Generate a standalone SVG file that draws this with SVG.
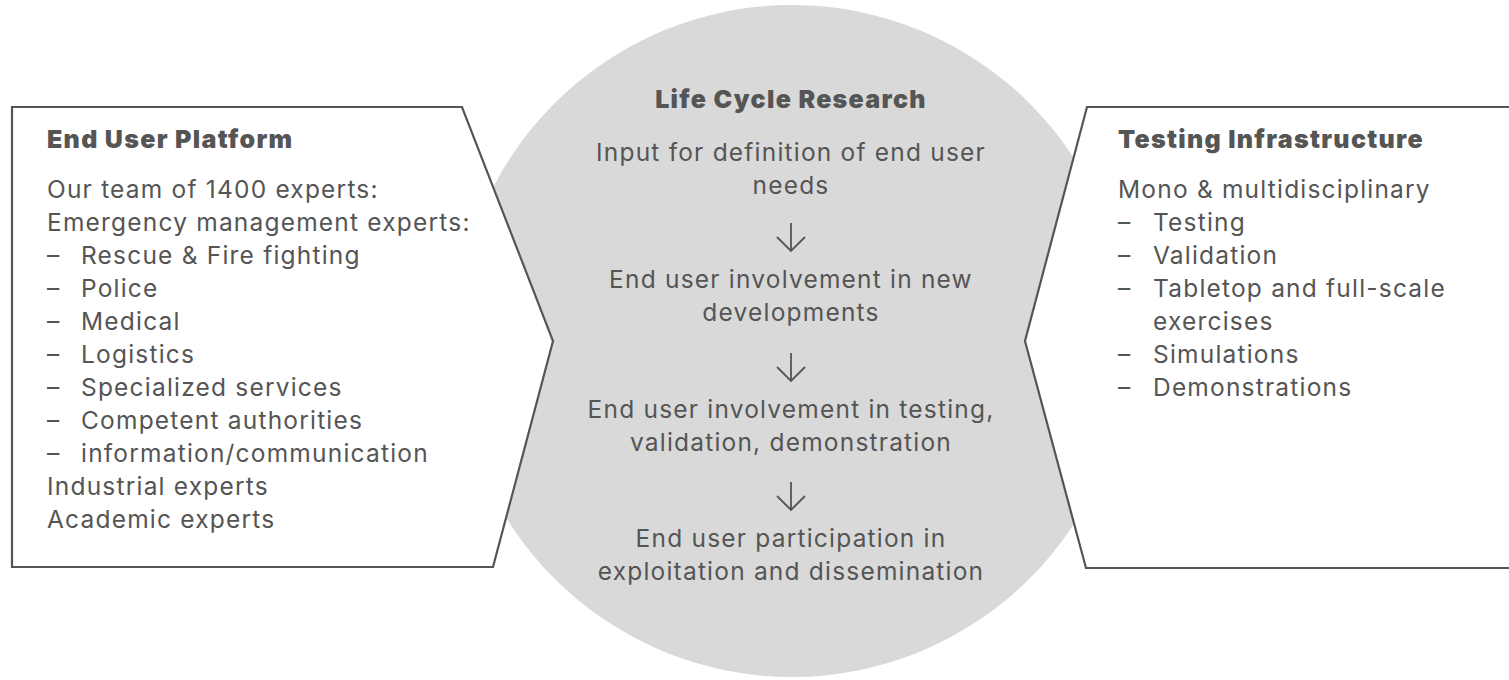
<svg xmlns="http://www.w3.org/2000/svg" width="1509" height="680" viewBox="0 0 1509 680">
<style>
text{font-family:Inter,"Noto Sans","Liberation Sans",sans-serif;fill:#555555;font-size:24.5px;letter-spacing:1.2px}
.h{font-weight:900;font-size:25px;letter-spacing:1.3px}
.c{text-anchor:middle}
.box{fill:#ffffff;stroke:#555555;stroke-width:2.2;stroke-linejoin:miter}
.arr{fill:none;stroke:#555555;stroke-width:1.8}
</style>
<rect width="1509" height="680" fill="#ffffff"/>
<g id="life-cycle">
<circle cx="792" cy="341" r="336" fill="#d9d9d9"/>
</g>
<g id="end-user-platform">
<path class="box" d="M12 107 H462 L553 341 L493 567 H12 Z"/>
<text class="h" x="47" y="148">End User Platform</text>
<text x="47" y="198">Our team of 1400 experts:</text>
<text x="47" y="231">Emergency management experts:</text>
<text x="47" y="264">–</text><text x="81" y="264">Rescue &amp; Fire fighting</text>
<text x="47" y="297">–</text><text x="81" y="297">Police</text>
<text x="47" y="330">–</text><text x="81" y="330">Medical</text>
<text x="47" y="363">–</text><text x="81" y="363">Logistics</text>
<text x="47" y="396">–</text><text x="81" y="396">Specialized services</text>
<text x="47" y="429">–</text><text x="81" y="429">Competent authorities</text>
<text x="47" y="462">–</text><text x="81" y="462">information/communication</text>
<text x="47" y="495">Industrial experts</text>
<text x="47" y="528">Academic experts</text>
</g>
<g id="testing-infrastructure">
<path class="box" d="M1512 107 H1087 L1025 341 L1086 568 H1512"/>
<text class="h" x="1118" y="148">Testing Infrastructure</text>
<text x="1118" y="198">Mono &amp; multidisciplinary</text>
<text x="1118" y="231">–</text><text x="1153" y="231">Testing</text>
<text x="1118" y="264">–</text><text x="1153" y="264">Validation</text>
<text x="1118" y="297">–</text><text x="1153" y="297">Tabletop and full-scale</text>
<text x="1153" y="330">exercises</text>
<text x="1118" y="363">–</text><text x="1153" y="363">Simulations</text>
<text x="1118" y="396">–</text><text x="1153" y="396">Demonstrations</text>
</g>
<g id="stages">
<text class="h c" x="791" y="108">Life Cycle Research</text>
<text class="c" x="791" y="161">Input for definition of end user</text>
<text class="c" x="791" y="194">needs</text>
<text class="c" x="791" y="288">End user involvement in new</text>
<text class="c" x="791" y="321">developments</text>
<text class="c" x="791" y="418">End user involvement in testing,</text>
<text class="c" x="791" y="451">validation, demonstration</text>
<text class="c" x="791" y="547">End user participation in</text>
<text class="c" x="791" y="580">exploitation and dissemination</text>
</g>
<g id="connectors">
<path class="arr" d="M791 223 V251 M777 237 L791 251 L805 237"/>
<path class="arr" d="M791 353 V381 M777 367 L791 381 L805 367"/>
<path class="arr" d="M791 482 V510 M777 496 L791 510 L805 496"/>
</g>
</svg>
